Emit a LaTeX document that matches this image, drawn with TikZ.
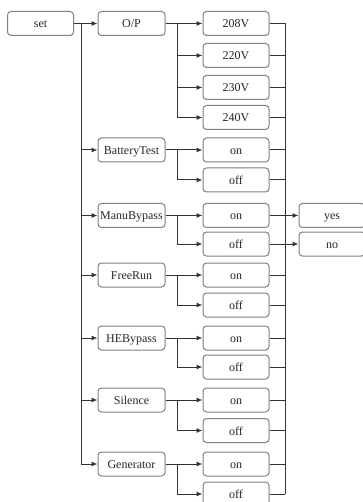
\documentclass[tikz,border=0pt]{standalone}
\usepackage{fontspec}
\setmainfont{Liberation Serif}
\usetikzlibrary{arrows.meta}
\definecolor{boxgray}{HTML}{808080}
\definecolor{linegray}{HTML}{333333}
\begin{document}
\begin{tikzpicture}[x=1pt,y=-1pt,
  box/.style={draw=boxgray, line width=1pt, rounded corners=3.5pt, minimum width=66pt, minimum height=24pt, inner sep=0pt, text height=9pt, text depth=0pt, text=black!85, font=\fontsize{12}{13}\selectfont},
  conn/.style={draw=linegray, line width=1pt},
  arr/.style={conn, -{Latex[length=6pt,width=5pt]}}]
\useasboundingbox (0,0) rectangle (362,502);
% column 0
\node[box] (set) at (40.5,23.5) {set};
% column 1
\node[box, minimum width=67pt] (op) at (131.5,23.5) {O/P};
\node[box, minimum width=67pt] (bt) at (131.5,150) {BatteryTest};
\node[box, minimum width=67pt] (mb) at (131.5,215.5) {ManuBypass};
\node[box, minimum width=67pt] (fr) at (131.5,275) {FreeRun};
\node[box, minimum width=67pt] (he) at (131.5,338) {HEBypass};
\node[box, minimum width=67pt] (si) at (131.5,400) {Silence};
\node[box, minimum width=67pt] (ge) at (131.5,464) {Generator};
% column 2
\node[box] (va) at (236,23.5) {208V};
\node[box] (vb) at (236,55.5) {220V};
\node[box] (vc) at (236,87.5) {230V};
\node[box] (vd) at (236,117.5) {240V};
\node[box] (bton) at (236,150) {on};
\node[box] (btoff) at (236,180) {off};
\node[box] (mbon) at (236,215.5) {on};
\node[box] (mboff) at (236,244) {off};
\node[box] (fron) at (236,275) {on};
\node[box] (froff) at (236,305) {off};
\node[box] (heon) at (236,338) {on};
\node[box] (heoff) at (236,367) {off};
\node[box] (sion) at (236,400) {on};
\node[box] (sioff) at (236,430.5) {off};
\node[box] (geon) at (236,464) {on};
\node[box] (geoff) at (236,494) {off};
% column 3
\node[box] (yes) at (332,215.5) {yes};
\node[box] (no) at (332,244) {no};
% trunk
\coordinate (tx) at (81,0);
\coordinate (sx) at (177,0);
\coordinate (bx) at (285,0);
\draw[arr] (set.east) -- (op.west);
\draw[conn] (tx |- op.west) -- (tx |- ge.west);
\foreach \n in {bt,mb,fr,he,si,ge}{\draw[arr] (tx |- \n.west) -- (\n.west);}
% O/P values
\draw[arr] (op.east) -- (va.west);
\draw[conn] (sx |- va.west) -- (sx |- vd.west);
\foreach \n in {vb,vc,vd}{\draw[arr] (sx |- \n.west) -- (\n.west);}
% on/off pairs
\foreach \p/\a/\b in {bt/bton/btoff, mb/mbon/mboff, fr/fron/froff, he/heon/heoff, si/sion/sioff, ge/geon/geoff}{
  \draw[arr] (\p.east) -- (\a.west);
  \draw[conn] (sx |- \a.west) -- (sx |- \b.west);
  \draw[arr] (sx |- \b.west) -- (\b.west);
}
% right bus
\draw[conn] (bx |- va.east) -- (bx |- geoff.east);
\foreach \n in {va,vb,vc,vd,bton,btoff,fron,froff,heon,heoff,sion,sioff,geon,geoff}{\draw[conn] (\n.east) -- (bx |- \n.east);}
\draw[arr] (mbon.east) -- (yes.west);
\draw[arr] (mboff.east) -- (no.west);
\end{tikzpicture}
\end{document}
